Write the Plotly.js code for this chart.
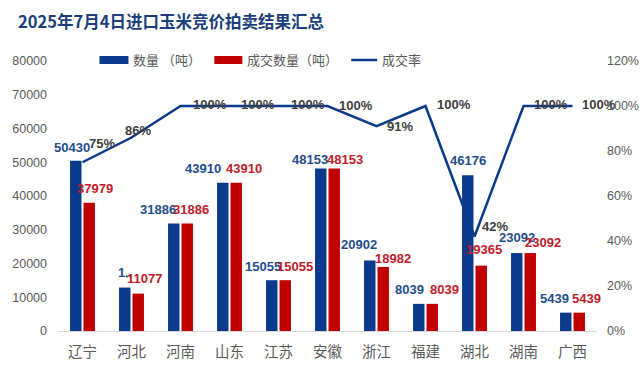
<!DOCTYPE html>
<html><head><meta charset="utf-8">
<script src="https://cdn.plot.ly/plotly-3.0.1.min.js"></script>
<style>html,body{margin:0;padding:0;background:#fff}#c{width:640px;height:376px}</style>
</head><body><div id="c"></div>
<script>
// ---- data ----
const categories = ['辽宁','河北','河南','山东','江苏','安徽','浙江','福建','湖北','湖南','广西'];
const quantity   = [50430, 12880, 31886, 43910, 15055, 48153, 20902, 8039, 46176, 23092, 5439];
const dealt      = [37979, 11077, 31886, 43910, 15055, 48153, 18982, 8039, 19365, 23092, 5439];
const dealRate   = [0.75, 0.86, 1.00, 1.00, 1.00, 1.00, 0.91, 1.00, 0.42, 1.00, 1.00];
const quantityLabels = ['50430','1‥','31886','43910','15055','48153','20902','8039','46176','23092','5439'];
const dealtLabels    = dealt.map(String);
const rateLabels     = dealRate.map(v => Math.round(v*100) + '%');
const seriesNames    = ['数量 （吨）', '成交数量（吨）', '成交率'];

// ---- label offsets (style only, px) ----
const qShiftX = [-4, 0, -16, -20, -9, -11, -11, -9, 0, 0, -11];
const qShiftY = [13, 15, 14, 14, 14, 9, 16, 14, 15, 16, 14];
const dShiftX = [6, 6, 4, 8, 10, 11, 10, 12, 3, 13, 7];
const dShiftY = [14, 15, 14, 14, 14, 9, 8, 14, 16, 11, 14];
const rShiftX = [19, 6, 29, 28, 29, 28, 23, 28, 20, 27, 26];
const rShiftY = [19, 7, 2, 2, 2, 1, 0, 2, 10, 2, 2];

const BLUE = '#0b3a8c', RED = '#c00000', GREY = '#595959';
const numFont = 'Liberation Sans, Arial, sans-serif';
const cjk = 'Noto Sans CJK SC, sans-serif';

const traces = [
  {type:'bar', name:seriesNames[0], x:categories, y:quantity, marker:{color:BLUE}, hoverinfo:'skip'},
  {type:'bar', name:seriesNames[1], x:categories, y:dealt, marker:{color:RED}, hoverinfo:'skip'},
  {type:'scatter', mode:'lines', name:seriesNames[2], x:categories, y:dealRate, yaxis:'y2',
   line:{color:BLUE, width:2.5}, cliponaxis:false, hoverinfo:'skip'}
];

const ML = 57.5, MR = 43, MT = 61, MB = 45, W = 640, H = 376;
const pw = W - ML - MR, ph = H - MT - MB;
const px = v => (v - ML) / pw;          // pixel x -> paper x
const py = v => (H - MB - v) / ph;      // pixel y -> paper y

const ann = [];
categories.forEach((c, i) => {
  ann.push({x:c, y:quantity[i], xref:'x', yref:'y', text:quantityLabels[i], showarrow:false,
    xanchor:'center', yanchor:'middle', xshift:-6.75 + qShiftX[i], yshift:qShiftY[i],
    font:{family:numFont, size:13, color:'#1f4e8c', weight:'bold'}});
  ann.push({x:c, y:dealt[i], xref:'x', yref:'y', text:dealtLabels[i], showarrow:false,
    xanchor:'center', yanchor:'middle', xshift:6.75 + dShiftX[i], yshift:dShiftY[i],
    font:{family:numFont, size:13, color:'#c0202a', weight:'bold'}});
  ann.push({x:c, y:dealRate[i], xref:'x', yref:'y2', text:rateLabels[i], showarrow:false,
    xanchor:'center', yanchor:'middle', xshift:rShiftX[i], yshift:rShiftY[i],
    font:{family:numFont, size:13, color:'#404040', weight:'bold'}});
});

// custom legend (wide swatches like the reference)
const legY = 60;
const shapes = [
  {type:'rect', xref:'paper', yref:'paper', x0:px(99), x1:px(128), y0:py(64), y1:py(56),
   fillcolor:BLUE, line:{width:0}},
  {type:'rect', xref:'paper', yref:'paper', x0:px(214), x1:px(242), y0:py(64), y1:py(56),
   fillcolor:RED, line:{width:0}},
  {type:'line', xref:'paper', yref:'paper', x0:px(351), x1:px(377), y0:py(legY), y1:py(legY),
   line:{color:BLUE, width:2.5}}
];
[[131, seriesNames[0]], [245, seriesNames[1]], [380, seriesNames[2]]].forEach(([x, t]) => {
  ann.push({xref:'paper', yref:'paper', x:px(x), y:py(legY), text:t, showarrow:false,
    xanchor:'left', yanchor:'middle', font:{family:cjk, size:13, color:GREY}});
});

const layout = {
  width:W, height:H,
  margin:{l:ML, r:MR, t:MT, b:MB},
  paper_bgcolor:'#fff', plot_bgcolor:'#fff',
  title:{text:'2025年7月4日进口玉米竞价拍卖结果汇总', xref:'container', yref:'container',
    x:18/640, xanchor:'left', y:1-22/376, yanchor:'middle',
    font:{family:cjk, size:16.5, color:'#1a3f7a', weight:'bold'}},
  barmode:'group', bargap:0.45, bargroupgap:0.15,
  showlegend:false,
  xaxis:{type:'category', range:[-0.5, categories.length - 0.5], autorange:false,
    showline:true, linecolor:'#d9d9d9', linewidth:1, ticks:'',
    showgrid:false, zeroline:false, ticklabelstandoff:8, automargin:false,
    tickfont:{family:cjk, size:14.5, color:GREY}},
  yaxis:{range:[0,80000], autorange:false, dtick:10000, tickformat:'d', showgrid:false, zeroline:false,
    showline:false, ticks:'', ticklabelstandoff:10, automargin:false,
    tickfont:{family:numFont, size:12.5, color:GREY}},
  yaxis2:{range:[0,1.2], autorange:false, dtick:0.2, tickformat:'.0%', overlaying:'y', side:'right',
    showgrid:false, zeroline:false, showline:false, ticks:'', ticklabelstandoff:9, automargin:false,
    tickfont:{family:numFont, size:12.5, color:GREY}},
  shapes:shapes,
  annotations:ann
};
Plotly.newPlot('c', traces, layout, {displayModeBar:false, staticPlot:true});
</script></body></html>
